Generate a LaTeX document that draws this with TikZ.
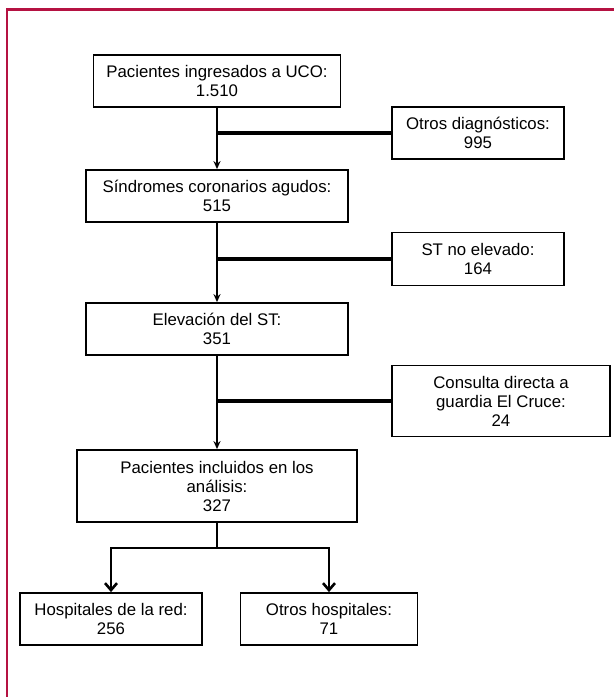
\documentclass[tikz,border=0pt]{standalone}
\usepackage{fontspec}
\setmainfont{Liberation Sans}
\usetikzlibrary{arrows.meta}
\definecolor{marco}{RGB}{181,18,66}
\begin{document}
\begin{tikzpicture}[x = 1pt, y = -1pt,
    caja/.style = {draw, line width = 1.8pt, align = center, inner sep = 0pt,
                   font = \fontsize{16.8}{19}\selectfont},
    tronco/.style = {line width = 2.4pt, -{Stealth[length = 8pt, width = 7pt]}},
    rama/.style = {line width = 3.4pt},
    horquilla/.style = {line width = 2.6pt, -{Straight Barb[length = 7pt, width = 12pt, line width = 2.6pt]}}]
  \useasboundingbox (0,0) rectangle (614,697);
  \draw [marco, line width = 2.5pt] (7,697) -- (7,9.5) -- (614,9.5);
  \node [caja, minimum width = 247pt, minimum height = 52pt] (ingreso) at (217,81)
    {Pacientes ingresados a UCO:\\1.510};
  \node [caja, minimum width = 172pt, minimum height = 52pt] (otrosdiag) at (478,133)
    {Otros diagnósticos:\\995};
  \node [caja, minimum width = 262pt, minimum height = 52pt] (sca) at (217,196)
    {Síndromes coronarios agudos:\\515};
  \node [caja, minimum width = 172pt, minimum height = 53pt] (stne) at (478,259)
    {ST no elevado:\\164};
  \node [caja, minimum width = 262pt, minimum height = 52pt] (elev) at (217,329)
    {Elevación del ST:\\351};
  \node [caja, minimum width = 218pt, minimum height = 71pt] (guardia) at (501,401)
    {Consulta directa a\\guardia El Cruce:\\24};
  \node [caja, minimum width = 280pt, minimum height = 72pt] (incl) at (217,486)
    {Pacientes incluidos en los\\análisis:\\327};
  \node [caja, minimum width = 182pt, minimum height = 52pt] (red) at (111,619)
    {Hospitales de la red:\\256};
  \node [caja, minimum width = 177pt, minimum height = 52pt] (otroshosp) at (329,619)
    {Otros hospitales:\\71};
  \foreach \desde/\hasta/\fuera in {ingreso/sca/otrosdiag, sca/elev/stne, elev/incl/guardia}
    {
      \draw [tronco] (\desde.south) -- (\hasta.north);
      \draw [rama] (\fuera.west) -- (\fuera.west -| \desde.south);
    }
  \coordinate (reparto) at (217,548);
  \draw [rama, line width = 2.6pt] (incl.south) -- (reparto);
  \draw [horquilla] (reparto) -| (red.north);
  \draw [horquilla] (reparto) -| (otroshosp.north);
\end{tikzpicture}
\end{document}
